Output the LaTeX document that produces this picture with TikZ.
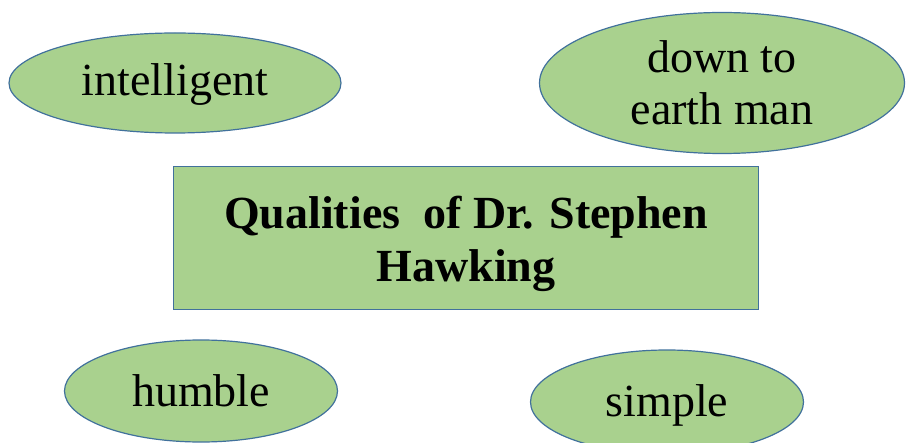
\documentclass[tikz,border=0pt]{standalone}
\usepackage{fontspec}
\setmainfont{Liberation Serif}
\usetikzlibrary{shapes.geometric}
\definecolor{fillgreen}{HTML}{A9D18E}
\definecolor{edgeblue}{HTML}{41719C}
\tikzset{
  quality/.style={ellipse, draw=edgeblue, fill=fillgreen, line width=1.2pt, inner sep=0pt,
    align=center, font=\fontsize{46}{52}\selectfont},
  titlebox/.style={rectangle, draw=edgeblue, fill=fillgreen, line width=1.2pt, inner sep=0pt},
  titletext/.style={align=center, inner sep=0pt, font=\fontsize{46}{53}\selectfont\bfseries}
}
\begin{document}
\begin{tikzpicture}[x=1pt,y=-1pt]
\clip (0,0) rectangle (907,443);
\useasboundingbox (0,0) rectangle (907,443);
\node[quality, minimum width=332pt, minimum height=100pt, text height=37pt, text depth=11pt] (intelligent) at (175,83) {intelligent};
\node[quality, minimum width=365pt, minimum height=141pt] (down) at (722,83) {down to\\earth man};
\node[titlebox, minimum width=585pt, minimum height=143pt] (title) at (466,238) {};
\node[titletext] (titlelabel) at (466,244) {Qualities~ of Dr. Stephen\\Hawking};
\node[quality, minimum width=273pt, minimum height=102pt] (humble) at (201,391) {humble};
\node[quality, minimum width=273pt, minimum height=104pt, text height=40pt, text depth=11pt] (simple) at (667,402) {simple};
\end{tikzpicture}
\end{document}
